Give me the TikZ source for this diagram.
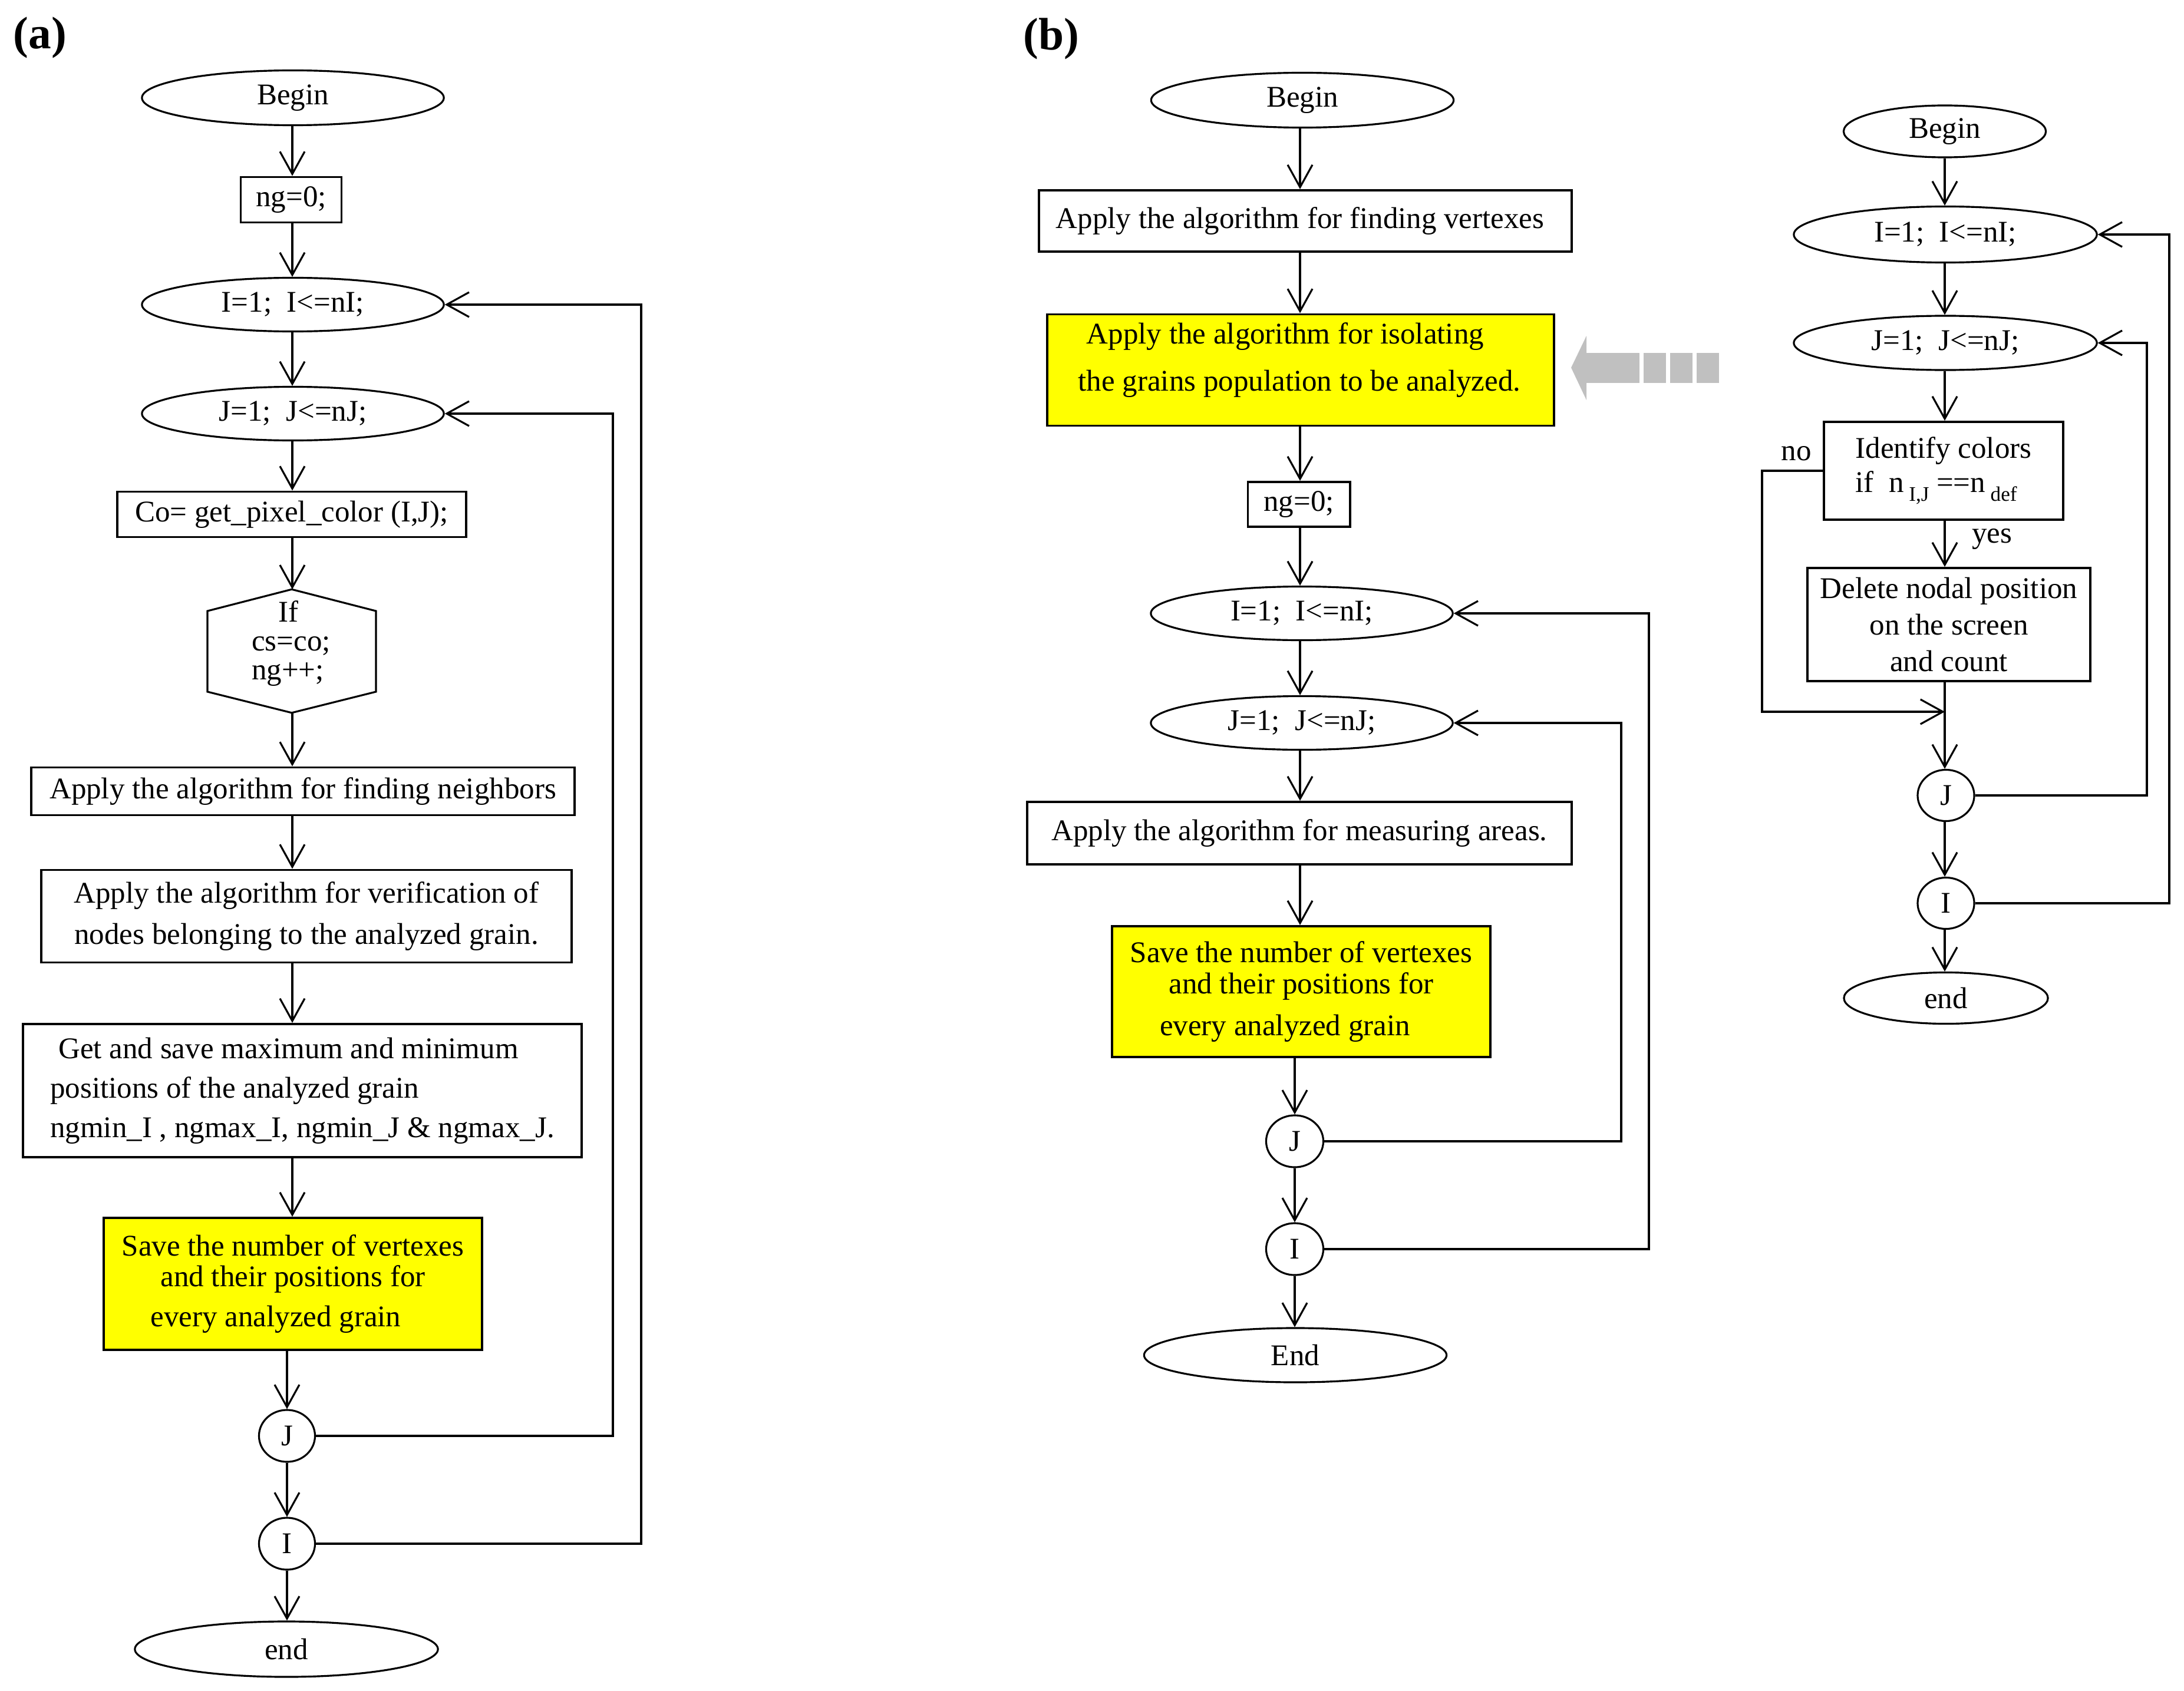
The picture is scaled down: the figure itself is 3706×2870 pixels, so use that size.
\documentclass[tikz,border=0pt]{standalone}
\usepackage{fontspec}
\setmainfont{Liberation Serif}
\usetikzlibrary{shapes.geometric,arrows.meta}
\definecolor{ylw}{RGB}{255,255,0}
\definecolor{arrgray}{RGB}{192,192,192}
\begin{document}
\begin{tikzpicture}[x=0.01cm,y=-0.01cm,
  every node/.style={font=\fontsize{14.5pt}{15pt}\selectfont, inner sep=0pt},
  box/.style={draw, line width=1.1pt, rectangle},
  ybox/.style={box, fill=ylw},
  ell/.style={draw, line width=0.9pt, ellipse},
  arr/.style={line width=0.9pt, -{Straight Barb[length=0.38cm,width=0.42cm]}},
  ln/.style={line width=0.9pt},
  lbl/.style={font=\fontsize{22pt}{24pt}\selectfont\bfseries}]
\useasboundingbox (0,0) rectangle (3706,2870);

% ---------------- panel (a) ----------------
\node[lbl] (la) at (68,64) {(a)};
\coordinate (acol) at (496,0);
\node[ell, minimum width=5.12cm, minimum height=0.93cm] (aBegin) at (497,166) {Begin};
\node[box, minimum width=1.71cm, minimum height=0.77cm] (ang) at (494,339) {ng=0;};
\node[ell, minimum width=5.12cm, minimum height=0.91cm] (aI) at (497,517) {I=1;\ \ I<=nI;};
\node[ell, minimum width=5.12cm, minimum height=0.91cm] (aJ) at (497,702) {J=1;\ \ J<=nJ;};
\node[box, minimum width=5.92cm, minimum height=0.77cm] (aCo) at (495,873) {Co= get\_pixel\_color (I,J);};
\node[minimum width=2.86cm, minimum height=2.08cm] (aIf) at (495,1105) {};
\draw[ln] (aIf.north) -- (638,1037) -- (638,1174) -- (aIf.south) -- (352,1174) -- (352,1037) -- cycle;
\node[align=left, font=\fontsize{14.5pt}{13.9pt}\selectfont] (aIfT) at (494,1092) {\hspace*{0.45cm}If\\cs=co;\\ng++;};
\node[box, minimum width=9.21cm, minimum height=0.81cm] (aNb) at (514,1343) {Apply the algorithm for finding neighbors};
\node[box, minimum width=9.00cm, minimum height=1.57cm, align=center] (aVer) at (520,1555) {Apply the algorithm for verification of\\[5pt]nodes belonging to the analyzed grain.};
\node[box, minimum width=9.47cm, minimum height=2.26cm, align=left] (aGet) at (513,1851) {\hspace*{0.14cm}Get and save maximum and minimum\\[4pt]positions of the analyzed grain\\[4pt]ngmin\_I , ngmax\_I, ngmin\_J \& ngmax\_J.};
\node[ybox, minimum width=6.41cm, minimum height=2.24cm, align=center] (aSave) at (497,2179) {Save the number of vertexes\\and their positions for\\[4.3pt]every analyzed grain\hspace*{0.58cm}};
\node[ell, minimum width=0.95cm, minimum height=0.88cm] (aJc) at (487,2437) {J};
\node[ell, minimum width=0.95cm, minimum height=0.88cm] (aIc) at (487,2620) {I};
\node[ell, minimum width=5.14cm, minimum height=0.94cm] (aEnd) at (486,2799) {end};

\draw[arr] (aBegin.south -| acol) -- (ang.north -| acol);
\draw[arr] (ang.south -| acol) -- (aI.north -| acol);
\draw[arr] (aI.south -| acol) -- (aJ.north -| acol);
\draw[arr] (aJ.south -| acol) -- (aCo.north -| acol);
\draw[arr] (aCo.south -| acol) -- (aIf.north -| acol);
\draw[arr] (aIf.south -| acol) -- (aNb.north -| acol);
\draw[arr] (aNb.south -| acol) -- (aVer.north -| acol);
\draw[arr] (aVer.south -| acol) -- (aGet.north -| acol);
\draw[arr] (aGet.south -| acol) -- (aSave.north -| acol);
\draw[arr] (aSave.south -| aJc) -- (aJc.north);
\draw[arr] (aJc) -- (aIc);
\draw[arr] (aIc.south) -- (aIc.south |- aEnd.north);
\draw[arr] (aJc.east) -| (1040,702) -- (aJ.east);
\draw[arr] (aIc.east) -| (1088,517) -- (aI.east);

% ---------------- panel (b) ----------------
\node[lbl] (lb) at (1784,66) {(b)};
\coordinate (bcol) at (2206,0);
\node[ell, minimum width=5.13cm, minimum height=0.93cm] (bBegin) at (2210,170) {Begin};
\node[box, minimum width=9.03cm, minimum height=1.04cm] (bVert) at (2215,375) {Apply the algorithm for finding vertexes\hspace*{0.18cm}};
\node[ybox, minimum width=8.60cm, minimum height=1.89cm] (bIso) at (2207,628) {};
\node[align=center] (bIsoT) at (2205,611) {Apply the algorithm for isolating\hspace*{0.48cm}\\[7.7pt]the grains population to be analyzed.};
\fill[arrgray] (2666,624) -- (2692,570) -- (2692,679) -- cycle;
\fill[arrgray] (2692,599) rectangle (2782,650);
\fill[arrgray] (2789,599) rectangle (2827,650);
\fill[arrgray] (2834,599) rectangle (2872,650);
\fill[arrgray] (2879,599) rectangle (2917,650);
\node[box, minimum width=1.73cm, minimum height=0.76cm] (bng) at (2204,856) {ng=0;};
\node[ell, minimum width=5.12cm, minimum height=0.91cm] (bI) at (2209,1041) {I=1;\ \ I<=nI;};
\node[ell, minimum width=5.12cm, minimum height=0.91cm] (bJ) at (2209,1227) {J=1;\ \ J<=nJ;};
\node[box, minimum width=9.23cm, minimum height=1.06cm] (bMeas) at (2205,1414) {Apply the algorithm for measuring areas.};
\node[ybox, minimum width=6.42cm, minimum height=2.22cm, align=center] (bSave) at (2208,1683) {Save the number of vertexes\\and their positions for\\[5pt]every analyzed grain\hspace*{0.55cm}};
\node[ell, minimum width=0.97cm, minimum height=0.88cm] (bJc) at (2197,1937) {J};
\node[ell, minimum width=0.97cm, minimum height=0.88cm] (bIc) at (2197,2120) {I};
\node[ell, minimum width=5.13cm, minimum height=0.92cm] (bEnd) at (2198,2300) {End};

\draw[arr] (bBegin.south -| bcol) -- (bVert.north -| bcol);
\draw[arr] (bVert.south -| bcol) -- (bIso.north -| bcol);
\draw[arr] (bIso.south -| bcol) -- (bng.north -| bcol);
\draw[arr] (bng.south -| bcol) -- (bI.north -| bcol);
\draw[arr] (bI.south -| bcol) -- (bJ.north -| bcol);
\draw[arr] (bJ.south -| bcol) -- (bMeas.north -| bcol);
\draw[arr] (bMeas.south -| bcol) -- (bSave.north -| bcol);
\draw[arr] (bSave.south -| bJc) -- (bJc.north);
\draw[arr] (bJc) -- (bIc);
\draw[arr] (bIc.south) -- (bIc.south |- bEnd.north);
\draw[arr] (bJc.east) -| (2751,1227) -- (bJ.east);
\draw[arr] (bIc.east) -| (2798,1041) -- (bI.east);

% ---------------- right chart ----------------
\coordinate (ccol) at (3300,0);
\node[ell, minimum width=3.43cm, minimum height=0.88cm] (cBegin) at (3300,223) {Begin};
\node[ell, minimum width=5.14cm, minimum height=0.95cm] (cI) at (3301,398) {I=1;\ \ I<=nI;};
\node[ell, minimum width=5.14cm, minimum height=0.92cm] (cJ) at (3301,582) {J=1;\ \ J<=nJ;};
\node[box, minimum width=4.05cm, minimum height=1.66cm, align=left, font=\fontsize{14.5pt}{16.5pt}\selectfont] (cId) at (3298,799) {Identify colors\\if\ \ n\,\raisebox{-0.15cm}{\fontsize{10pt}{10pt}\selectfont I,J} ==n\,\raisebox{-0.15cm}{\fontsize{10pt}{10pt}\selectfont def}};
\node (cNo) at (3048,770) {no};
\node[box, minimum width=4.79cm, minimum height=1.92cm, align=center, font=\fontsize{14.5pt}{17.6pt}\selectfont] (cDel) at (3307,1060) {Delete nodal position\\on the screen\\and count};
\node (cYes) at (3380,915) {yes};
\coordinate (cMerge) at (3300,1208);
\node[ell, minimum width=0.96cm, minimum height=0.87cm] (cJc) at (3302,1350) {J};
\node[ell, minimum width=0.96cm, minimum height=0.87cm] (cIc) at (3302,1533) {I};
\node[ell, minimum width=3.46cm, minimum height=0.87cm] (cEnd) at (3302,1694) {end};

\draw[arr] (cBegin.south -| ccol) -- (cI.north -| ccol);
\draw[arr] (cI.south -| ccol) -- (cJ.north -| ccol);
\draw[arr] (cJ.south -| ccol) -- (cId.north -| ccol);
\draw[arr] (cId.south -| ccol) -- (cDel.north -| ccol);
\draw[arr] (cDel.south -| ccol) -- (cJc.north -| ccol);
\draw[arr] (cId.west) -| (2990,1208) -- (cMerge);
\draw[arr] (cJc.south -| ccol) -- (cIc.north -| ccol);
\draw[arr] (cIc.south -| ccol) -- (cEnd.north -| ccol);
\draw[arr] (cJc.east) -| (3643,582) -- (cJ.east);
\draw[arr] (cIc.east) -| (3681,398) -- (cI.east);
\end{tikzpicture}
\end{document}
